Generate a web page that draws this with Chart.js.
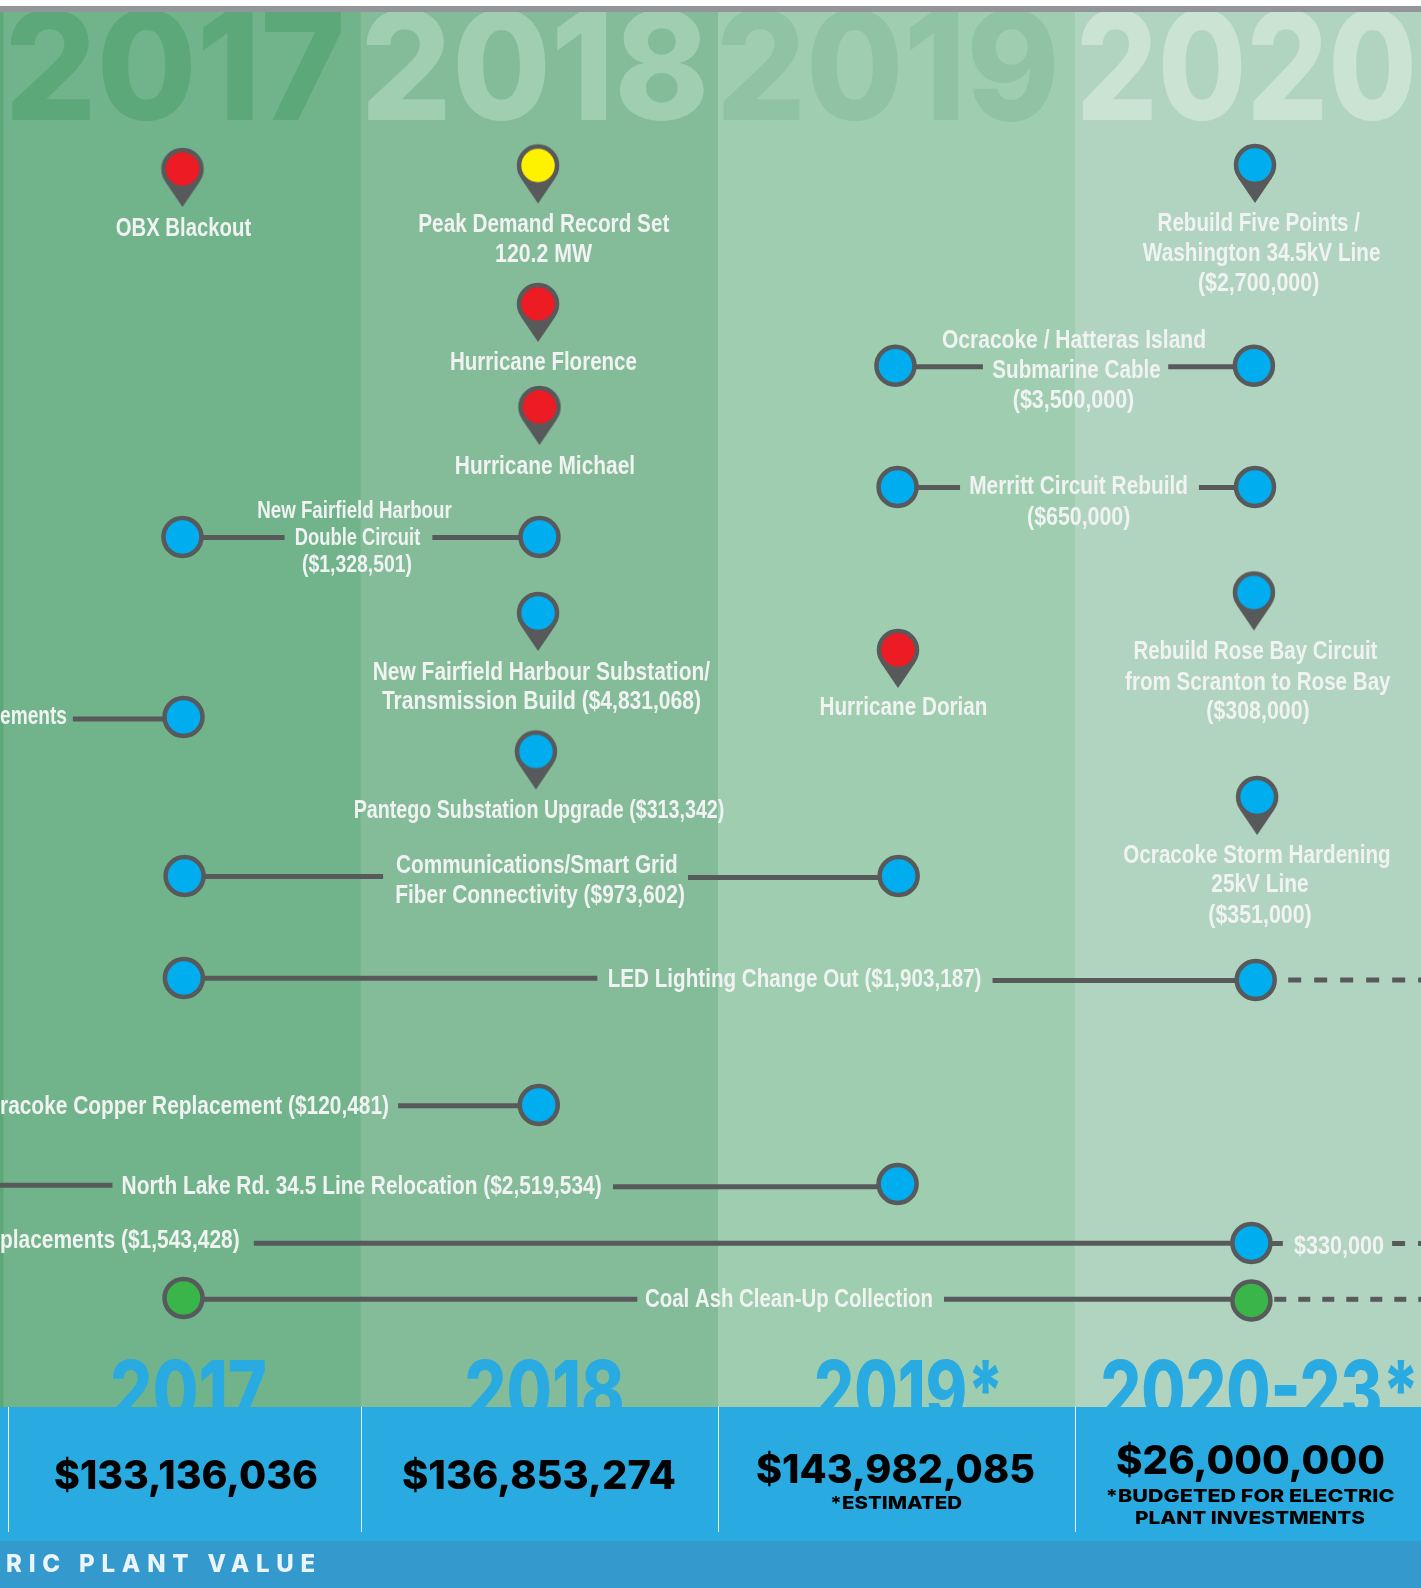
<!DOCTYPE html>
<html>
<head>
<meta charset="utf-8">
<title>Electric plant value timeline</title>
<script src="https://cdn.jsdelivr.net/npm/chart.js@4"></script>
<style>
    html, body { margin: 0; padding: 0; background: #fff; }
    canvas { display: block; }
</style>
</head>
<body>
<canvas id="timeline" width="1421" height="1588"></canvas>
<script>
// x = position on the time line in years, y = lane down the page
const bandYears = [2017, 2018, 2019, 2020];
const bigYears = ['2017', '2018', '2019', '2020'];
const footerYears = ['2017', '2018', '2019*', '2020-23*'];
const plantValues = ['$133,136,036', '$136,853,274', '$143,982,085', '$26,000,000'];

const outagePinYears = [2017.5, 2018.496, 2018.5, 2019.504];
const outagePinLanes = [16.9, 30.4, 40.7, 65];
const peakPinYears = [2018.496];
const peakPinLanes = [16.55];
const projectPinYears = [2018.496, 2018.49, 2020.504, 2020.501, 2020.51];
const projectPinLanes = [61.3, 75.15, 16.5, 59.25, 79.7];

const projectDotYears = [2019.497, 2020.501, 2019.503, 2020.504, 2017.5, 2018.5, 2017.503, 2017.506, 2019.506, 2017.504, 2020.506, 2018.498, 2019.503, 2020.494];
const projectDotLanes = [36.57, 36.57, 48.7, 48.7, 53.7, 53.7, 71.7, 87.6, 87.6, 97.8, 98, 110.5, 118.4, 124.3];
const coalDotYears = [2017.503, 2020.494];
const coalDotLanes = [129.8, 130.05];

const lineFrom = [2019.497, 2020.261, 2019.503, 2020.347, 2017.5, 2018.2, 2017.193, 2017.506, 2018.916, 2017.504, 2019.769, 2018.104, 2016.989, 2018.706, 2017.7, 2020.494, 2017.503, 2019.633];
const lineTo = [2019.742, 2020.501, 2019.678, 2020.504, 2017.786, 2018.5, 2017.503, 2018.062, 2019.506, 2018.662, 2020.506, 2018.498, 2017.304, 2019.503, 2020.494, 2020.582, 2018.774, 2020.494];
const lineLane = [36.67, 36.67, 48.75, 48.75, 53.75, 53.75, 71.9, 87.65, 87.75, 97.83, 98.05, 110.57, 118.53, 118.67, 124.33, 124.35, 129.93, 129.93];

const dashFrom = [2020.597, 2020.888, 2020.558];
const dashTo = [2020.969, 2020.969, 2020.969];
const dashLane = [98, 124.35, 129.93];

const labelTexts = [
    'OBX Blackout', 'Peak Demand Record Set', '120.2 MW', 'Hurricane Florence', 'Hurricane Michael',
    'New Fairfield Harbour', 'Double Circuit', '($1,328,501)',
    'New Fairfield Harbour Substation/', 'Transmission Build ($4,831,068)',
    'Pantego Substation Upgrade ($313,342)', 'Communications/Smart Grid', 'Fiber Connectivity ($973,602)',
    'LED Lighting Change Out ($1,903,187)', 'North Lake Rd. 34.5 Line Relocation ($2,519,534)',
    'Coal Ash Clean-Up Collection', 'Ocracoke / Hatteras Island', 'Submarine Cable', '($3,500,000)',
    'Merritt Circuit Rebuild', '($650,000)', 'Hurricane Dorian',
    'Rebuild Five Points /', 'Washington 34.5kV Line', '($2,700,000)',
    'Rebuild Rose Bay Circuit', 'from Scranton to Rose Bay', '($308,000)',
    'Ocracoke Storm Hardening', '25kV Line', '($351,000)', '$330,000',
    'ements', 'racoke Copper Replacement ($120,481)', 'placements ($1,543,428)'
];

// layout of the texts, same order as above: centre x, centre y, width, font size
const labelLayout = [
    [183.4, 226.7, 135.5, 25], [543.8, 222.7, 251, 25], [543.6, 252.5, 97, 25], [543.4, 360.7, 187, 25], [545, 465, 180.3, 25],
    [354.5, 509.5, 194.5, 23], [357.5, 537, 125.6, 23], [357, 564, 110, 23],
    [541.4, 670.5, 337.3, 25], [541.4, 700, 319, 25],
    [539, 809, 370.7, 25], [536.8, 864, 281.6, 25], [540, 894, 289.7, 25],
    [794.6, 977.5, 373.7, 25], [361.6, 1185, 480, 25],
    [789, 1297.5, 288, 25], [1074, 339.3, 264, 25], [1076.5, 369, 168.3, 25], [1073.5, 399, 121.5, 25],
    [1078.6, 485, 218.8, 25], [1078.7, 515.5, 103.3, 25], [903.5, 706, 168, 25],
    [1258.7, 222, 202.3, 25], [1261.7, 251.7, 237.7, 25], [1258.6, 282, 121.4, 25],
    [1255.4, 650, 244, 25], [1257.8, 680.6, 265.5, 25], [1258, 710, 103.3, 25],
    [1257, 854, 267.4, 25], [1260, 883, 97.3, 25], [1260, 913.6, 103.3, 25], [1339, 1245, 90, 25],
    [33.5, 715, 67, 25], [194.5, 1105, 389, 25], [119.8, 1239.3, 239.7, 25]
];

const dark = '#58595b';
const labelColor = '#f1f2f2';
const bandColors = ['#71b48c', '#84bc99', '#9ecdaf', '#b1d4c0'];
const bigYearColors = ['#5ca878', '#9fceb0', '#90c3a4', '#cbe3d3'];
const bigYearLayout = [[175, 341], [535, 349], [887.8, 343.5], [1246.6, 341]];
const footerYearLayout = [[188.5, 157], [544.6, 160], [909, 190], [1260, 319]];
const valueLayout = [[186, 1475, 264], [539, 1475, 274], [895.5, 1469, 279], [1250.5, 1460, 269]];

function makePin(color) {
    const c = document.createElement('canvas');
    c.width = 100;
    c.height = 100;
    const g = c.getContext('2d');
    g.fillStyle = dark;
    g.beginPath();
    g.moveTo(33, 63);
    g.lineTo(50, 88);
    g.lineTo(67, 63);
    g.closePath();
    g.fill();
    g.beginPath();
    g.arc(50, 50, 19, 0, Math.PI * 2);
    g.fillStyle = color;
    g.strokeStyle = dark;
    g.lineWidth = 4.5;
    g.fill();
    g.stroke();
    return c;
}

function toPoints(xs, ys) {
    return xs.map((x, i) => ({ x: x, y: ys[i] }));
}

function pinDataset(xs, ys, color) {
    return {
        data: toPoints(xs, ys),
        showLine: false,
        pointStyle: makePin(color),
        pointRadius: 1,
        pointHoverRadius: 1,
        order: 0
    };
}

function dotDataset(xs, ys, color) {
    return {
        data: toPoints(xs, ys),
        showLine: false,
        pointRadius: 19,
        pointHoverRadius: 19,
        pointBorderWidth: 4.5,
        pointBackgroundColor: color,
        pointBorderColor: dark,
        order: 0
    };
}

function lineDataset(x1, x2, lane, dash) {
    return {
        data: [{ x: x1, y: lane }, { x: x2, y: lane }],
        showLine: true,
        borderColor: dark,
        borderWidth: 5,
        borderDash: dash || [],
        pointRadius: 0,
        order: 1
    };
}

// squeeze or stretch a line of text to the measured width
function fitText(ctx, text, cx, baseline, width, font, color) {
    ctx.save();
    ctx.font = font;
    ctx.fillStyle = color;
    ctx.textAlign = 'center';
    ctx.textBaseline = 'alphabetic';
    const measured = ctx.measureText(text).width;
    ctx.translate(cx, baseline);
    ctx.scale(width / measured, 1);
    ctx.fillText(text, 0, 0);
    ctx.restore();
}

const bandsPlugin = {
    id: 'bands',
    beforeDatasetsDraw(chart) {
        const ctx = chart.ctx;
        const xs = chart.scales.x;
        const ys = chart.scales.y;
        const top = ys.getPixelForValue(1.2);
        const bottom = ys.getPixelForValue(140.7);
        ctx.save();
        ctx.fillStyle = '#5ca878';
        ctx.fillRect(0, top, xs.getPixelForValue(bandYears[0]), bottom - top);
        bandYears.forEach((year, i) => {
            const left = xs.getPixelForValue(year);
            const right = i < 3 ? xs.getPixelForValue(bandYears[i + 1]) : chart.width;
            ctx.fillStyle = bandColors[i];
            ctx.fillRect(left, top, right - left, bottom - top);
        });
        ctx.beginPath();
        ctx.rect(0, top, chart.width, bottom - top);
        ctx.clip();
        bigYears.forEach((year, i) => {
            fitText(ctx, year, bigYearLayout[i][0], 120, bigYearLayout[i][1], '800 150px Inter, "Liberation Sans"', bigYearColors[i]);
        });
        ctx.restore();
        ctx.fillStyle = '#939598';
        ctx.fillRect(0, 6, chart.width, top - 6);
    },
    afterDatasetsDraw(chart) {
        const ctx = chart.ctx;
        const xs = chart.scales.x;

        labelTexts.forEach((text, i) => {
            const l = labelLayout[i];
            fitText(ctx, text, l[0], l[1] + l[3] * 0.36, l[2], 'bold ' + l[3] + 'px "Liberation Sans Narrow", "Liberation Sans"', labelColor);
        });

        footerYears.forEach((year, i) => {
            fitText(ctx, year, footerYearLayout[i][0], 1420, footerYearLayout[i][1], '800 82px Inter, "Liberation Sans"', '#29abe2');
        });

        ctx.fillStyle = '#29abe2';
        ctx.fillRect(0, 1407, chart.width, 134);
        ctx.fillStyle = '#3499cc';
        ctx.fillRect(0, 1541, chart.width, 47);

        ctx.fillStyle = '#e8f5fb';
        ctx.fillRect(8, 1407, 1, 125);
        bandYears.slice(1).forEach(year => {
            ctx.fillRect(Math.round(xs.getPixelForValue(year)), 1407, 1, 125);
        });

        plantValues.forEach((value, i) => {
            const v = valueLayout[i];
            fitText(ctx, value, v[0], v[1] + 14, v[2], '800 39px Inter, "Liberation Sans"', '#000');
        });
        fitText(ctx, '*ESTIMATED', 896, 1509, 132, '800 18px Inter, "Liberation Sans"', '#000');
        fitText(ctx, '*BUDGETED FOR ELECTRIC', 1250, 1502, 289, '800 18px Inter, "Liberation Sans"', '#000');
        fitText(ctx, 'PLANT INVESTMENTS', 1250, 1524, 230, '800 18px Inter, "Liberation Sans"', '#000');

        ctx.save();
        ctx.font = '800 24px Inter, "Liberation Sans"';
        ctx.letterSpacing = '6.8px';
        ctx.fillStyle = '#eaf4fa';
        ctx.textAlign = 'right';
        ctx.textBaseline = 'alphabetic';
        ctx.fillText('RIC PLANT VALUE', 322, 1572);
        ctx.restore();
    }
};

const datasets = [
    pinDataset(outagePinYears, outagePinLanes, '#ed1c24'),
    pinDataset(peakPinYears, peakPinLanes, '#fff200'),
    pinDataset(projectPinYears, projectPinLanes, '#00aeef'),
    dotDataset(projectDotYears, projectDotLanes, '#00aeef'),
    dotDataset(coalDotYears, coalDotLanes, '#39b54a')
];
lineFrom.forEach((x, i) => datasets.push(lineDataset(x, lineTo[i], lineLane[i])));
dashFrom.forEach((x, i) => datasets.push(lineDataset(x, dashTo[i], dashLane[i], i === 2 ? [12, 12] : [13, 13])));

new Chart(document.getElementById('timeline'), {
    type: 'scatter',
    data: { datasets: datasets },
    options: {
        responsive: false,
        animation: false,
        layout: { padding: 0, autoPadding: false },
        plugins: { legend: { display: false }, tooltip: { enabled: false } },
        scales: {
            x: { type: 'linear', display: false, min: 2016.989, max: 2020.969 },
            y: { type: 'linear', display: false, reverse: true, min: 0, max: 158.8 }
        }
    },
    plugins: [bandsPlugin]
});
</script>
</body>
</html>
